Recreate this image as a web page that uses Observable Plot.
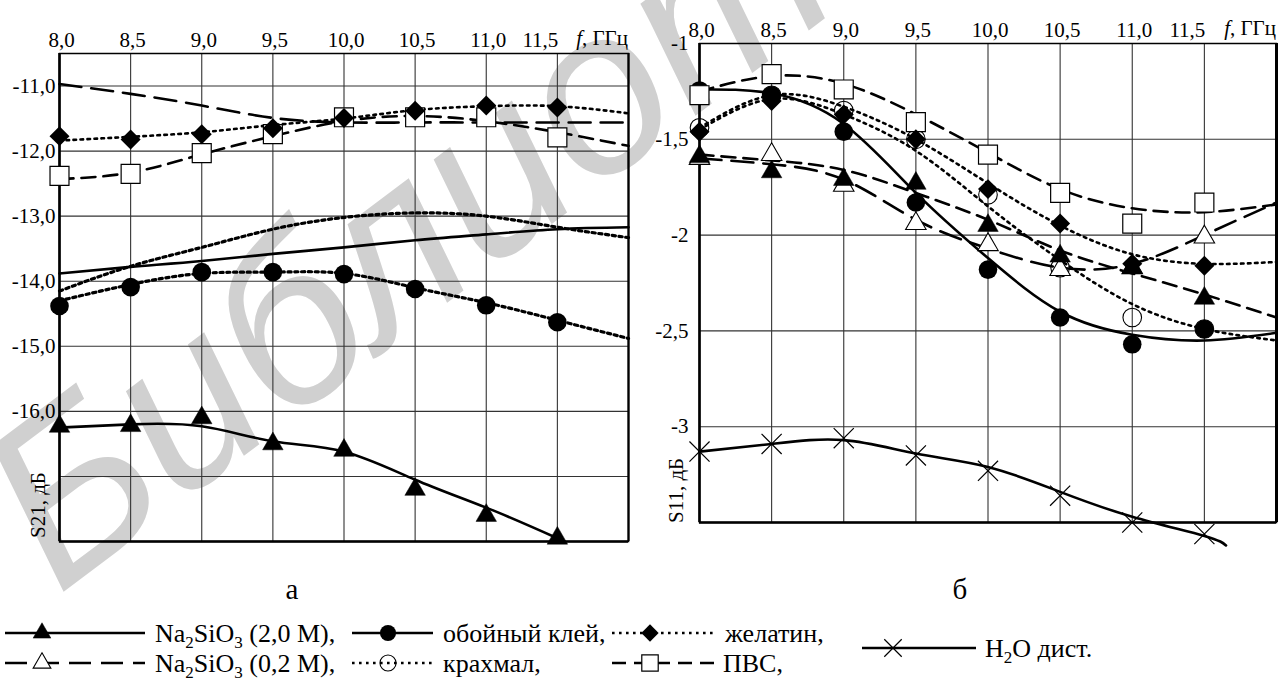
<!DOCTYPE html>
<html><head><meta charset="utf-8">
<script src="https://cdn.jsdelivr.net/npm/d3@7"></script>
<script src="https://cdn.jsdelivr.net/npm/@observablehq/plot@0.6"></script>
<style>
html,body{margin:0;padding:0;background:#fff;}
#root{position:relative;width:1279px;height:690px;overflow:hidden;}
#root svg{position:absolute;overflow:visible;}
#root svg text{font-family:"Liberation Serif","Times New Roman",serif;}
#root svg text.wm{font-family:"Liberation Sans",Arial,sans-serif;}
</style></head><body><div id="root"></div>
<script>
// ---------- DATA ----------
const xPts = [8.0, 8.5, 9.0, 9.5, 10.0, 10.5, 11.0, 11.5];
const xFit = [8.0, 8.5, 9.0, 9.5, 10.0, 10.5, 11.0, 11.5, 12.0];
const xFitH2O = [8.0, 8.5, 9.0, 9.5, 10.0, 10.5, 11.0, 11.5, 11.65];
const xTicks = [8.0, 8.5, 9.0, 9.5, 10.0, 10.5, 11.0, 11.5];

// panel а: S21, дБ
const s21Ticks = [-11, -12, -13, -14, -15, -16];
const s21Grid = [-11, -12, -13, -14, -15, -16, -17];
const s21_na2sio3_20 = [-16.23, -16.22, -16.10, -16.50, -16.60, -17.20, -17.60, -17.95];
const s21_oboiny = [-14.38, -14.09, -13.86, -13.86, -13.89, -14.12, -14.37, -14.63];
const s21_zhelatin = [-11.77, -11.82, -11.74, -11.65, -11.49, -11.38, -11.30, -11.33];
const s21_pvs = [-12.38, -12.35, -12.03, -11.74, -11.48, -11.48, -11.48, -11.79];
const s21fit_na2sio3_20 = [-16.25, -16.20, -16.23, -16.46, -16.62, -17.05, -17.48, -17.95];
const s21fit_na2sio3_02 = [-10.97, -11.12, -11.30, -11.49, -11.56, -11.56, -11.56, -11.56, -11.56];
const s21fit_oboiny_dots = [-14.30, -14.05, -13.88, -13.86, -13.88, -14.10, -14.33, -14.60, -14.88];
const s21fit_oboiny = [-13.88, -13.78, -13.69, -13.58, -13.48, -13.37, -13.28, -13.20, -13.17];
const s21fit_krahmal = [-14.15, -13.77, -13.48, -13.20, -13.02, -12.95, -13.00, -13.17, -13.33];
const s21fit_zhelatin = [-11.84, -11.78, -11.71, -11.60, -11.50, -11.37, -11.31, -11.31, -11.42];
const s21fit_pvs = [-12.43, -12.33, -12.05, -11.77, -11.54, -11.46, -11.54, -11.71, -11.92];

// panel б: S11, дБ
const s11Ticks = [-1, -1.5, -2, -2.5, -3];
const s11Grid = [-1.5, -2, -2.5, -3];
const s11_na2sio3_20 = [-1.59, -1.67, -1.71, -1.73, -1.95, -2.11, -2.17, -2.33];
const s11_na2sio3_02 = [-1.60, -1.58, -1.74, -1.94, -2.05, -2.18, -2.17, -2.01];
const s11_oboiny = [-1.245, -1.27, -1.46, -1.83, -2.18, -2.43, -2.57, -2.49];
const s11_krahmal = [-1.44, -1.27, -1.35, -1.50, -1.79, -2.17, -2.43, -2.49];
const s11_zhelatin = [-1.46, -1.30, -1.37, -1.50, -1.76, -1.94, -2.15, -2.16];
const s11_pvs = [-1.27, -1.16, -1.24, -1.41, -1.58, -1.78, -1.94, -1.83];
const s11_h2o = [-3.13, -3.09, -3.06, -3.15, -3.23, -3.36, -3.50, -3.56];
const s11fit_na2sio3_20 = [-1.58, -1.61, -1.66, -1.78, -1.92, -2.08, -2.20, -2.31, -2.43];
const s11fit_na2sio3_02 = [-1.60, -1.63, -1.71, -1.92, -2.07, -2.17, -2.15, -2.00, -1.83];
const s11fit_oboiny = [-1.24, -1.26, -1.42, -1.78, -2.12, -2.40, -2.52, -2.55, -2.51];
const s11fit_krahmal = [-1.45, -1.29, -1.37, -1.56, -1.85, -2.13, -2.36, -2.49, -2.55];
const s11fit_zhelatin = [-1.44, -1.27, -1.33, -1.50, -1.73, -1.95, -2.10, -2.15, -2.14];
const s11fit_pvs = [-1.25, -1.17, -1.21, -1.37, -1.57, -1.76, -1.86, -1.88, -1.84];
const s11fit_h2o = [-3.13, -3.09, -3.07, -3.14, -3.21, -3.34, -3.47, -3.57, -3.62];

// texts
const legendLabels = ["Na₂SiO₃ (2,0 M),", "Na₂SiO₃ (0,2 M),", "обойный клей,", "крахмал,", "желатин,", "ПВС,", "H₂O дист."];
const panelCaptions = ["а", "б"];
const yTitles = ["S21, дБ", "S11, дБ"];
const xUnit = ["f", ", ГГц"];
const watermark = "Библиотека";

// ---------- STYLES ----------
const FONT = '"Liberation Serif","Times New Roman",serif';
const LINE = {
  solid: {stroke: "#000", strokeWidth: 2.6},
  longDash: {stroke: "#000", strokeWidth: 2.6, strokeDasharray: "22,10"},
  dash: {stroke: "#000", strokeWidth: 2.6, strokeDasharray: "14,8"},
  dot: {stroke: "#000", strokeWidth: 2.6, strokeDasharray: "2.6,4.4"},
  dotThick: {stroke: "#000", strokeWidth: 3.2, strokeDasharray: "3.2,3.6"}
};
const MARK = {
  filledTri: {symbol: "triangle", r: 7.6, fill: "#000", stroke: "#000", strokeWidth: 0.5},
  hollowTri: {symbol: "triangle", r: 7.6, fill: "#fff", stroke: "#000", strokeWidth: 1.1},
  filledCircle: {symbol: "circle", r: 9.3, fill: "#000", stroke: "none"},
  hollowCircle: {symbol: "circle", r: 9.3, fill: "none", stroke: "#000", strokeWidth: 1.1},
  diamond: {symbol: "diamond2", r: 9, fill: "#000", stroke: "none"},
  square: {symbol: "square", r: 10.7, fill: "#fff", stroke: "#000", strokeWidth: 1.2},
  cross: {symbol: "times", r: 9.2, fill: "none", stroke: "#000", strokeWidth: 1.2}
};
const rows = (xs, ys) => xs.map((x, i) => ({x, y: ys[i]}));
const fmtA = d => d.toFixed(1).replace(".", ",");
const fmtB = d => String(d).replace(".", ",");
const fmtX = d => d.toFixed(1).replace(".", ",");

const root = document.getElementById("root");

// watermark (behind)
{
  const svg = d3.create("svg").attr("width", 1279).attr("height", 690).style("left", "0px").style("top", "0px");
  svg.append("text").attr("class", "wm").attr("transform", "translate(58,596) rotate(-37)")
    .attr("font-style", "italic").attr("font-size", 232).attr("fill", "#d0d0d0").text(watermark);
  root.appendChild(svg.node());
}

function panel(cfg) {
  const tx = {fontSize: 21, fontFamily: FONT, fill: "#000"};
  const marks = [
    Plot.gridX({ticks: xTicks, stroke: "#333", strokeOpacity: 1, strokeWidth: 1.1}),
    Plot.gridY({ticks: cfg.yGrid, stroke: "#333", strokeOpacity: 1, strokeWidth: 1.1}),
    Plot.frame({stroke: "#000", strokeWidth: 1.5}),
    Plot.ruleX([8], {stroke: "#000", strokeWidth: 2.6}),
    Plot.ruleY([cfg.yDomain[0]], {stroke: "#000", strokeWidth: 2.6}),
    Plot.ruleX([12], {stroke: "#000", strokeWidth: cfg.rightW}),
    Plot.text(cfg.yTicks, {y: d => d, frameAnchor: "left", textAnchor: "end", dx: -cfg.yPad, text: cfg.yFmt, ...tx}),
    Plot.text(xTicks.filter(d => d < 11.5), {x: d => d, frameAnchor: "top", lineAnchor: "bottom", dy: -7, dx: 2, text: fmtX, ...tx}),
    Plot.text(xTicks.filter(d => d === 11.5), {x: d => d, frameAnchor: "top", lineAnchor: "bottom", dy: -7, dx: -17, text: fmtX, ...tx}),
    ...cfg.lines.map(l => Plot.line(rows(l.x, l.y), {x: "x", y: "y", curve: "natural", ...LINE[l.style]})),
    ...cfg.dots.map(d => Plot.dot(rows(d.x, d.y), {x: "x", y: "y", ...MARK[d.style]}))
  ];
  const svg = Plot.plot({
    width: cfg.width, height: 560,
    marginLeft: 59, marginRight: cfg.marginRight, marginTop: cfg.marginTop, marginBottom: cfg.marginBottom,
    x: {domain: [8, 12], axis: null},
    y: {domain: cfg.yDomain, axis: null},
    style: "font-family: 'Liberation Serif', serif; font-size: 21px; color: #000; background: transparent; overflow: visible;",
    marks
  });
  svg.style.left = cfg.left + "px";
  svg.style.top = "0px";
  const sx = svg.scale("x");
  const s = d3.select(svg);
  const t = s.append("text").attr("x", sx.apply(12)).attr("y", cfg.marginTop - 8)
    .attr("text-anchor", "end").attr("font-size", 21).attr("fill", "#000");
  t.append("tspan").attr("font-style", "italic").text(xUnit[0]);
  t.append("tspan").text(xUnit[1]);
  s.append("text").attr("transform", `translate(${cfg.titleX},${cfg.titleY}) rotate(-90)`)
    .attr("text-anchor", "start").attr("font-size", 21).attr("fill", "#000").text(cfg.title);
  root.appendChild(svg);
}

panel({
  left: 0, width: 640, marginRight: 12, marginTop: 53, marginBottom: 19, rightW: 2.2,
  yDomain: [-18, -10.5], yTicks: s21Ticks, yGrid: s21Grid, yFmt: fmtA, yPad: 4,
  title: yTitles[0], titleX: 45, titleY: 538,
  lines: [
    {x: xFit, y: s21fit_na2sio3_02, style: "longDash"},
    {x: xFit, y: s21fit_pvs, style: "dash"},
    {x: xFit, y: s21fit_zhelatin, style: "dot"},
    {x: xFit, y: s21fit_krahmal, style: "dotThick"},
    {x: xFit, y: s21fit_oboiny, style: "solid"},
    {x: xFit, y: s21fit_oboiny_dots, style: "dotThick"},
    {x: xPts, y: s21fit_na2sio3_20, style: "solid"}
  ],
  dots: [
    {x: xPts, y: s21_pvs, style: "square"},
    {x: xPts, y: s21_zhelatin, style: "diamond"},
    {x: xPts, y: s21_oboiny, style: "filledCircle"},
    {x: xPts, y: s21_na2sio3_20, style: "filledTri"}
  ]
});

panel({
  left: 640, width: 639, marginRight: 3, marginTop: 43, marginBottom: 38, rightW: 3,
  yDomain: [-3.5, -1], yTicks: s11Ticks, yGrid: s11Grid, yFmt: fmtB, yPad: 11,
  title: yTitles[1], titleX: 43, titleY: 523,
  lines: [
    {x: xFit, y: s11fit_pvs, style: "dash"},
    {x: xFit, y: s11fit_na2sio3_02, style: "longDash"},
    {x: xFit, y: s11fit_na2sio3_20, style: "dash"},
    {x: xFit, y: s11fit_zhelatin, style: "dot"},
    {x: xFit, y: s11fit_krahmal, style: "dot"},
    {x: xFit, y: s11fit_oboiny, style: "solid"},
    {x: xFitH2O, y: s11fit_h2o, style: "solid"}
  ],
  dots: [
    {x: xPts, y: s11_krahmal, style: "hollowCircle"},
    {x: xPts, y: s11_na2sio3_02, style: "hollowTri"},
    {x: xPts, y: s11_oboiny, style: "filledCircle"},
    {x: xPts, y: s11_pvs, style: "square"},
    {x: xPts, y: s11_zhelatin, style: "diamond"},
    {x: xPts, y: s11_na2sio3_20, style: "filledTri"},
    {x: xPts, y: s11_h2o, style: "cross"}
  ]
});

// ---------- captions & legend ----------
{
  const svg = d3.create("svg").attr("width", 1279).attr("height", 690).style("left", "0px").style("top", "0px");
  const cap = svg.append("g").attr("font-size", 29).attr("text-anchor", "middle").attr("fill", "#000");
  cap.append("text").attr("x", 292).attr("y", 599).text(panelCaptions[0]);
  cap.append("text").attr("x", 960).attr("y", 599).text(panelCaptions[1]);

  const subMap = {"₂": "2", "₃": "3"};
  function label(g, x, y, str) {
    const t = g.append("text").attr("x", x).attr("y", y).attr("font-size", 26).attr("fill", "#000");
    let buf = "", shifted = false;
    const flush = () => {
      if (buf) { t.append("tspan").attr("dy", shifted ? -6 : 0).text(buf); buf = ""; shifted = false; }
    };
    for (const ch of str) {
      if (subMap[ch]) {
        flush();
        t.append("tspan").attr("dy", shifted ? 0 : 6).attr("font-size", 17).text(subMap[ch]);
        shifted = true;
      } else buf += ch;
    }
    flush();
  }
  const r1 = 633, r2 = 663, r3 = 648;
  const items = [
    {x0: 5, x1: 145, mx: 42, tx: 155, y: r1, line: "solid", mark: "filledTri"},
    {x0: 5, x1: 145, mx: 42, tx: 155, y: r2, line: "longDash", mark: "hollowTri"},
    {x0: 352, x1: 433, mx: 388, tx: 443, y: r1, line: "solid", mark: "filledCircle"},
    {x0: 352, x1: 433, mx: 388, tx: 443, y: r2, line: "dot", mark: "hollowCircle"},
    {x0: 612, x1: 716, mx: 650, tx: 725, y: r1, line: "dot", mark: "diamond"},
    {x0: 612, x1: 716, mx: 650, tx: 723, y: r2, line: "dash", mark: "square"},
    {x0: 862, x1: 976, mx: 893, tx: 985, y: r3, line: "solid", mark: "cross"}
  ];
  const symType = {triangle: d3.symbolTriangle, circle: d3.symbolCircle, diamond2: d3.symbolDiamond2, square: d3.symbolSquare, times: d3.symbolTimes};
  items.forEach((it, i) => {
    const L = LINE[it.line], M = MARK[it.mark];
    svg.append("line").attr("x1", it.x0).attr("x2", it.x1).attr("y1", it.y).attr("y2", it.y)
      .attr("stroke", "#000").attr("stroke-width", L.strokeWidth).attr("stroke-dasharray", L.strokeDasharray || null);
    svg.append("path").attr("transform", `translate(${it.mx},${it.y})`)
      .attr("d", d3.symbol(symType[M.symbol], Math.PI * M.r * M.r * 0.75)())
      .attr("fill", M.fill).attr("stroke", M.stroke).attr("stroke-width", M.strokeWidth || 1);
    label(svg, it.tx, it.y + 9, legendLabels[i]);
  });
  root.appendChild(svg.node());
}
</script></body></html>
